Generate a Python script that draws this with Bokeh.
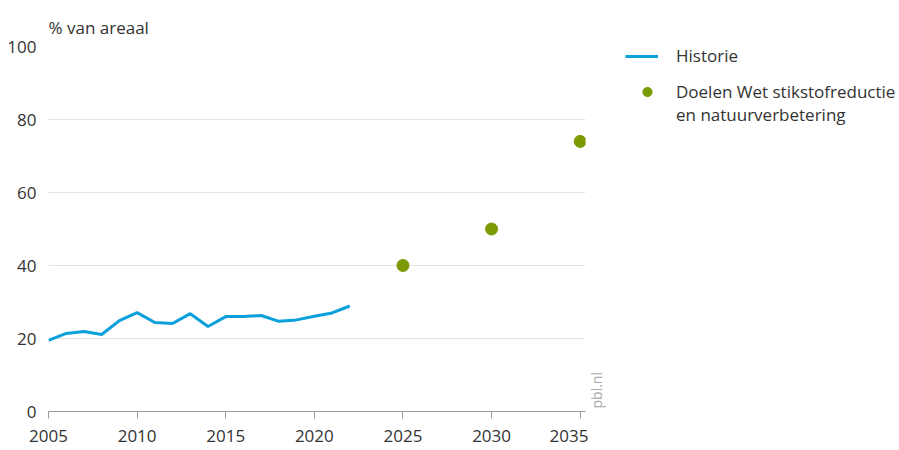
import math
from bokeh.plotting import figure
from bokeh.layouts import row
from bokeh.models import Range1d, Legend, LegendItem, Label, FixedTicker
from bokeh.embed import file_html
from bokeh.resources import INLINE

# ---- data ----
hist_years = [2005, 2006, 2007, 2008, 2009, 2010, 2011, 2012, 2013, 2014,
              2015, 2016, 2017, 2018, 2019, 2020, 2021, 2022]
hist_values = [19.5, 21.4, 21.9, 21.1, 24.9, 27.1, 24.4, 24.1, 26.8, 23.3,
               26.0, 26.0, 26.3, 24.7, 25.1, 26.1, 27.0, 28.9]
goal_years = [2025, 2030, 2035]
goal_values = [40, 50, 74]
x_ticks = [2005, 2010, 2015, 2020, 2025, 2030, 2035]
y_ticks = [0, 20, 40, 60, 80, 100]
series_names = ["Historie", "Doelen Wet stikstofreductie", "en natuurverbetering"]
y_title = "% van areaal"
source_note = "pbl.nl"

FONT = "Open Sans"
FS = "17px"
TXT = "#333333"
BLUE = "#0aa0dc"
GREEN = "#7b9a05"
H = 450
TOP, BOTTOM = 46, 39
MW = 588
TOTAL_W = 896

p = figure(width=MW, height=H, output_backend="svg", toolbar_location=None,
           x_range=Range1d(2005, 2035.3), y_range=Range1d(0, 100),
           min_border_left=48, min_border_right=3, min_border_top=TOP,
           min_border_bottom=BOTTOM)
p.outline_line_color = None
p.background_fill_color = "white"
p.border_fill_color = "white"
p.title.text = y_title
p.title.align = "left"
p.title.text_font = FONT
p.title.text_font_size = FS
p.title.text_font_style = "normal"
p.title.text_color = TXT
p.title.standoff = 15

hist = p.line(hist_years, hist_values, line_color=BLUE, line_width=3)
goals = p.scatter(goal_years, goal_values, size=12, fill_color=GREEN,
                  line_color=GREEN)

# axes
p.xaxis.ticker = FixedTicker(ticks=x_ticks)
p.yaxis.ticker = FixedTicker(ticks=y_ticks)
p.xaxis.axis_line_color = "#9a9a9a"
p.xaxis.major_tick_line_color = "#9a9a9a"
p.xaxis.major_tick_out = 7
p.xaxis.major_tick_in = 0
p.xaxis.minor_tick_line_color = None
p.xaxis.major_label_standoff = 11
p.yaxis.axis_line_color = None
p.yaxis.major_tick_line_color = None
p.yaxis.minor_tick_line_color = None
p.yaxis.major_label_standoff = 6
for ax in (p.xaxis, p.yaxis):
    ax.major_label_text_font = FONT
    ax.major_label_text_font_size = FS
    ax.major_label_text_color = TXT
p.xgrid.grid_line_color = None
p.ygrid.grid_line_color = "#e3e3e3"
p.ygrid.grid_line_width = 1

# ---- side panel: source note + legend (frame aligned with main frame) ----
SW = TOTAL_W - MW
FH = H - TOP - BOTTOM
s = figure(width=SW, height=H, output_backend="svg", toolbar_location=None,
           x_range=Range1d(0, SW), y_range=Range1d(0, FH),
           min_border_left=0, min_border_right=0, min_border_top=TOP,
           min_border_bottom=BOTTOM)
s.axis.visible = False
s.grid.visible = False
s.outline_line_color = None
s.border_fill_color = "white"
s.background_fill_color = "white"

s.add_layout(Label(x=8, y=3, text=source_note, angle=math.pi / 2,
                   text_font=FONT, text_font_size="14px",
                   text_color="#a8a8a8", text_baseline="middle",
                   text_align="left"))

# legend keys reuse the series data (they fall outside this panel's ranges)
key_line = s.line(hist_years, hist_values, line_color=BLUE, line_width=3)
key_dot = s.scatter(goal_years, goal_values, size=12, fill_color=GREEN,
                    line_color=GREEN)

common = dict(border_line_color=None, background_fill_alpha=0, margin=0,
              padding=0, label_height=20,
              label_text_font=FONT, label_text_font_size=FS,
              label_text_color=TXT)
legend_a = Legend(items=[LegendItem(label=series_names[0], renderers=[key_line])],
                  location=(37, 344), glyph_width=33, glyph_height=20,
                  label_standoff=18, **common)
legend_b = Legend(items=[LegendItem(label=series_names[1], renderers=[key_dot]),
                         LegendItem(label=series_names[2], renderers=[])],
                  location=(37, 285), spacing=0, glyph_width=44,
                  glyph_height=23, label_standoff=7, **common)
s.add_layout(legend_a)
s.add_layout(legend_b)

layout = row(p, s, spacing=0)
open("out.html", "w").write(file_html(layout, INLINE))
